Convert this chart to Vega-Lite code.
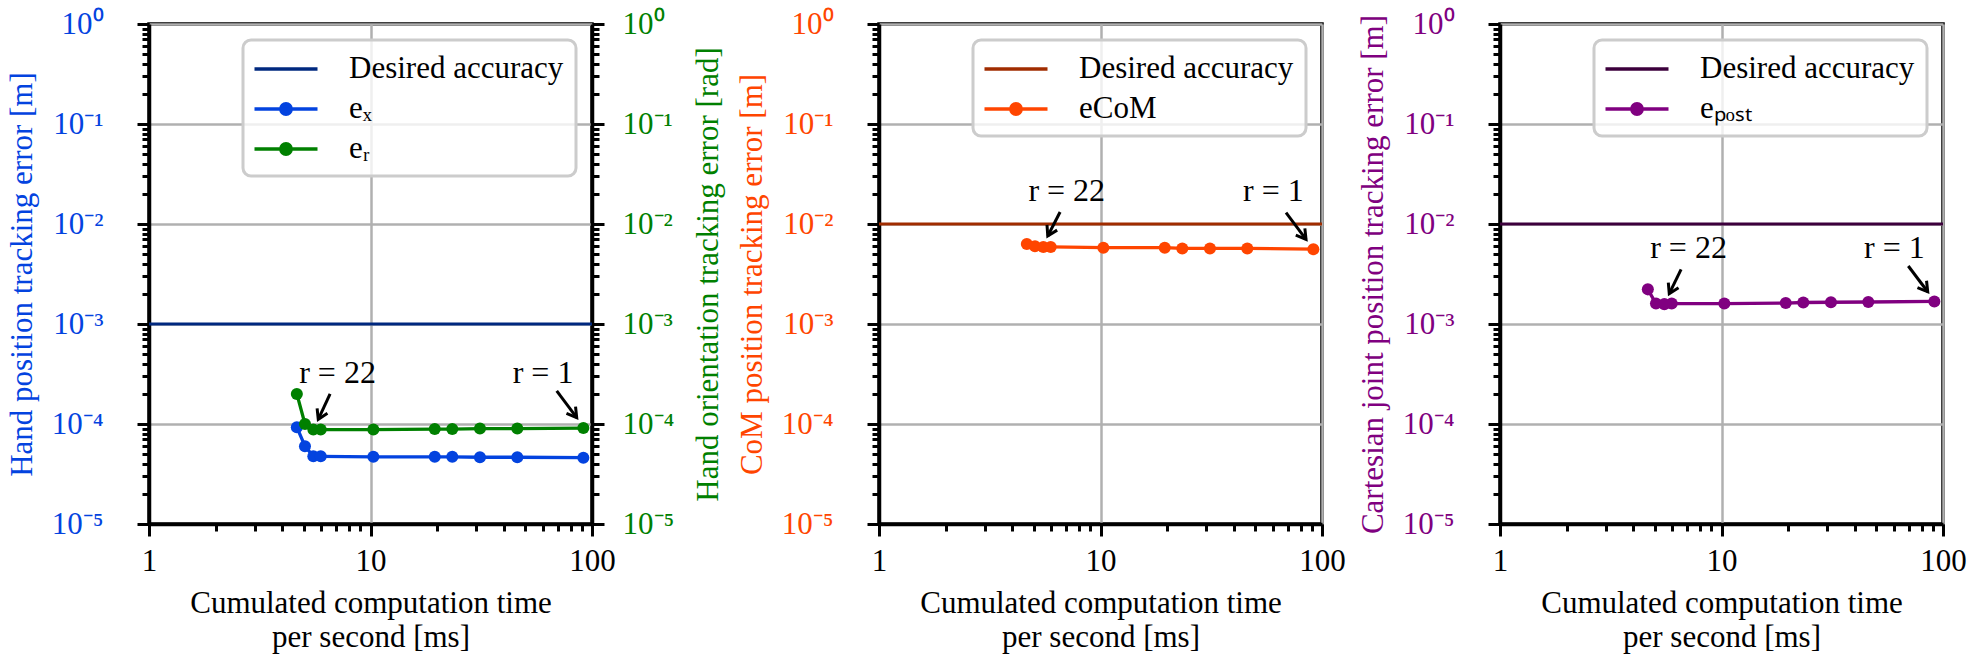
{
 "$schema": "https://vega.github.io/schema/vega-lite/v6.json",
 "background": "white",
 "padding": {"left": 4, "top": 6, "right": 4, "bottom": 5},
 "datasets": {
  "p1_goal": [{"series": "Desired accuracy", "err": 0.001}],
  "p1": [
   {"series": "eₓ", "t": 4.65, "err": 0.000093},
   {"series": "eₓ", "t": 5.06, "err": 0.000060},
   {"series": "eₓ", "t": 5.52, "err": 0.0000475},
   {"series": "eₓ", "t": 5.96, "err": 0.0000475},
   {"series": "eₓ", "t": 10.3, "err": 0.000047},
   {"series": "eₓ", "t": 19.5, "err": 0.000047},
   {"series": "eₓ", "t": 23.4, "err": 0.000047},
   {"series": "eₓ", "t": 31.2, "err": 0.0000465},
   {"series": "eₓ", "t": 46.0, "err": 0.0000465},
   {"series": "eₓ", "t": 91.4, "err": 0.000046},
   {"series": "eᵣ", "t": 4.65, "err": 0.000200},
   {"series": "eᵣ", "t": 5.06, "err": 0.000100},
   {"series": "eᵣ", "t": 5.52, "err": 0.000088},
   {"series": "eᵣ", "t": 5.96, "err": 0.000088},
   {"series": "eᵣ", "t": 10.3, "err": 0.000088},
   {"series": "eᵣ", "t": 19.5, "err": 0.000089},
   {"series": "eᵣ", "t": 23.4, "err": 0.000089},
   {"series": "eᵣ", "t": 31.2, "err": 0.000090},
   {"series": "eᵣ", "t": 46.0, "err": 0.000090},
   {"series": "eᵣ", "t": 91.4, "err": 0.000091}
  ],
  "p1_txt": [{"label": "r = 22", "t": 7.1, "err": 0.00032}, {"label": "r = 1", "t": 60.1, "err": 0.00032}],
  "p1_arr": [{"label": "r = 22", "t": 6.57, "err": 0.0002, "t2": 5.81, "err2": 0.000111}, {"label": "r = 1", "t": 69.3, "err": 0.000214, "t2": 85.3, "err2": 0.000116}],
  "p2_goal": [{"series": "Desired accuracy", "err": 0.01}],
  "p2": [
   {"series": "eCoM", "t": 4.65, "err": 0.0063},
   {"series": "eCoM", "t": 5.06, "err": 0.0060},
   {"series": "eCoM", "t": 5.52, "err": 0.0059},
   {"series": "eCoM", "t": 5.96, "err": 0.0059},
   {"series": "eCoM", "t": 10.3, "err": 0.0058},
   {"series": "eCoM", "t": 19.5, "err": 0.0058},
   {"series": "eCoM", "t": 23.4, "err": 0.0057},
   {"series": "eCoM", "t": 31.2, "err": 0.0057},
   {"series": "eCoM", "t": 46.0, "err": 0.0057},
   {"series": "eCoM", "t": 91.4, "err": 0.0056}
  ],
  "p2_txt": [{"label": "r = 22", "t": 7.04, "err": 0.0214}, {"label": "r = 1", "t": 60.3, "err": 0.0214}],
  "p2_arr": [{"label": "r = 22", "t": 6.57, "err": 0.0132, "t2": 5.78, "err2": 0.00759}, {"label": "r = 1", "t": 68.8, "err": 0.013, "t2": 84.7, "err2": 0.00703}],
  "p3_goal": [{"series": "Desired accuracy", "err": 0.01}],
  "p3": [
   {"series": "eₚₒₛₜ", "t": 4.65, "err": 0.00222},
   {"series": "eₚₒₛₜ", "t": 5.06, "err": 0.00160},
   {"series": "eₚₒₛₜ", "t": 5.52, "err": 0.00158},
   {"series": "eₚₒₛₜ", "t": 5.96, "err": 0.00160},
   {"series": "eₚₒₛₜ", "t": 10.3, "err": 0.00160},
   {"series": "eₚₒₛₜ", "t": 19.5, "err": 0.00162},
   {"series": "eₚₒₛₜ", "t": 23.4, "err": 0.00164},
   {"series": "eₚₒₛₜ", "t": 31.2, "err": 0.00165},
   {"series": "eₚₒₛₜ", "t": 46.0, "err": 0.00166},
   {"series": "eₚₒₛₜ", "t": 91.4, "err": 0.00168}
  ],
  "p3_txt": [{"label": "r = 22", "t": 7.1, "err": 0.00579}, {"label": "r = 1", "t": 60.3, "err": 0.00579}],
  "p3_arr": [{"label": "r = 22", "t": 6.57, "err": 0.00352, "t2": 5.81, "err2": 0.00201}, {"label": "r = 1", "t": 69.7, "err": 0.0038, "t2": 85.3, "err2": 0.0021}]
 },
 "spacing": 8,
 "hconcat": [
  {
   "width": 443, "height": 500,
   "resolve": {"scale": {"x": "shared", "y": "shared"}, "axis": {"x": "independent", "y": "independent"}},
   "layer": [
    {
     "data": {"name": "p1_goal"},
     "mark": {"type": "rule", "strokeWidth": 3},
     "encoding": {
      "y": {"field": "err", "type": "quantitative", "scale": {"type": "log", "domain": [0.00001, 1], "nice": false},
       "axis": {"orient": "left", "values": [0.00001,0.00002,0.00003,0.00004,0.00005,0.00006,0.00007,0.00008,0.00009,0.0001,0.0002,0.0003,0.0004,0.0005,0.0006,0.0007,0.0008,0.0009,0.001,0.002,0.003,0.004,0.005,0.006,0.007,0.008,0.009,0.01,0.02,0.03,0.04,0.05,0.06,0.07,0.08,0.09,0.1,0.2,0.3,0.4,0.5,0.6,0.7,0.8,0.9,1],
        "labelExpr": "datum.value==1?'10⁰':datum.value==0.1?'10⁻¹':datum.value==0.01?'10⁻²':datum.value==0.001?'10⁻³':datum.value==0.0001?'10⁻⁴':datum.value==0.00001?'10⁻⁵':''",
        "tickSize": {"condition": {"test": "datum.value==1||datum.value==0.1||datum.value==0.01||datum.value==0.001||datum.value==0.0001||datum.value==0.00001", "value": 12}, "value": 7},
        "grid": true,
        "gridOpacity": {"condition": {"test": "datum.value==1||datum.value==0.1||datum.value==0.01||datum.value==0.001||datum.value==0.0001||datum.value==0.00001", "value": 1}, "value": 0},
        "labelColor": "#0343df", "labelPadding": 34,
        "title": "Hand position tracking error [m]", "titleColor": "#0343df", "titlePadding": 13}},
      "color": {"field": "series", "type": "nominal", "scale": {"domain": ["Desired accuracy", "eₓ", "eᵣ"], "range": ["#00287f", "#0343df", "#008000"]},
       "legend": {"title": null, "orient": "top-right", "offset": 16, "padding": 12, "rowPadding": 8, "symbolOffset": 14, "labelOffset": 46, "symbolSize": 900, "symbolStrokeWidth": 3.3,
        "encode": {"symbols": {"update": {
         "shape": {"signal": "datum.value=='Desired accuracy'?'M-2.1,0H2.1':'M-2.1,0H2.1M0.35,0A0.35,0.35,0,1,1,-0.35,0A0.35,0.35,0,1,1,0.35,0'"},
         "fill": {"signal": "datum.value=='Desired accuracy'?'transparent':datum.value=='eₓ'?'#0343df':'#008000'"},
         "stroke": {"signal": "datum.value=='Desired accuracy'?'#00287f':datum.value=='eₓ'?'#0343df':'#008000'"},
         "strokeWidth": {"value": 3.3}, "size": {"value": 900}, "opacity": {"value": 1}}}}}}
     }
    },
    {
     "data": {"name": "p1"},
     "mark": {"type": "line", "strokeWidth": 3.3},
     "encoding": {
      "x": {"field": "t", "type": "quantitative", "scale": {"type": "log", "domain": [1, 100], "nice": false},
       "axis": {"values": [1,2,3,4,5,6,7,8,9,10,20,30,40,50,60,70,80,90,100],
        "labelExpr": "datum.value==1?'1':datum.value==10?'10':datum.value==100?'100':''",
        "tickSize": {"condition": {"test": "datum.value==1||datum.value==10||datum.value==100", "value": 12}, "value": 7},
        "grid": true,
        "gridOpacity": {"condition": {"test": "datum.value==1||datum.value==10||datum.value==100", "value": 1}, "value": 0},
        "labelPadding": 10, "labelColor": "black",
        "title": ["Cumulated computation time", "per second [ms]"], "titleColor": "black", "titlePadding": 12, "titleLineHeight": 34}},
      "y": {"field": "err", "type": "quantitative", "axis": null},
      "color": {"field": "series", "type": "nominal", "scale": {"domain": ["Desired accuracy", "eₓ", "eᵣ"], "range": ["#00287f", "#0343df", "#008000"]},
       "legend": {"title": null, "orient": "top-right", "offset": 16, "padding": 12, "rowPadding": 8, "symbolOffset": 14, "labelOffset": 46, "symbolSize": 900, "symbolStrokeWidth": 3.3,
        "encode": {"symbols": {"update": {
         "shape": {"signal": "datum.value=='Desired accuracy'?'M-2.1,0H2.1':'M-2.1,0H2.1M0.35,0A0.35,0.35,0,1,1,-0.35,0A0.35,0.35,0,1,1,0.35,0'"},
         "fill": {"signal": "datum.value=='Desired accuracy'?'transparent':datum.value=='eₓ'?'#0343df':'#008000'"},
         "stroke": {"signal": "datum.value=='Desired accuracy'?'#00287f':datum.value=='eₓ'?'#0343df':'#008000'"},
         "strokeWidth": {"value": 3.3}, "size": {"value": 900}, "opacity": {"value": 1}}}}}}
     }
    },
    {
     "data": {"name": "p1"},
     "mark": {"type": "point", "filled": true, "size": 145, "opacity": 1},
     "encoding": {
      "x": {"field": "t", "type": "quantitative", "axis": null},
      "y": {"field": "err", "type": "quantitative",
       "axis": {"orient": "right", "values": [0.00001,0.00002,0.00003,0.00004,0.00005,0.00006,0.00007,0.00008,0.00009,0.0001,0.0002,0.0003,0.0004,0.0005,0.0006,0.0007,0.0008,0.0009,0.001,0.002,0.003,0.004,0.005,0.006,0.007,0.008,0.009,0.01,0.02,0.03,0.04,0.05,0.06,0.07,0.08,0.09,0.1,0.2,0.3,0.4,0.5,0.6,0.7,0.8,0.9,1],
        "labelExpr": "datum.value==1?'10⁰':datum.value==0.1?'10⁻¹':datum.value==0.01?'10⁻²':datum.value==0.001?'10⁻³':datum.value==0.0001?'10⁻⁴':datum.value==0.00001?'10⁻⁵':''",
        "tickSize": {"condition": {"test": "datum.value==1||datum.value==0.1||datum.value==0.01||datum.value==0.001||datum.value==0.0001||datum.value==0.00001", "value": 12}, "value": 7},
        "grid": false,
        "labelColor": "#008000", "labelPadding": 18,
        "title": "Hand orientation tracking error [rad]", "titleColor": "#008000", "titleAngle": 270, "titleBaseline": "top", "titlePadding": 20}},
      "color": {"field": "series", "type": "nominal", "scale": {"domain": ["Desired accuracy", "eₓ", "eᵣ"], "range": ["#00287f", "#0343df", "#008000"]},
       "legend": {"title": null, "orient": "top-right", "offset": 16, "padding": 12, "rowPadding": 8, "symbolOffset": 14, "labelOffset": 46, "symbolSize": 900, "symbolStrokeWidth": 3.3,
        "encode": {"symbols": {"update": {
         "shape": {"signal": "datum.value=='Desired accuracy'?'M-2.1,0H2.1':'M-2.1,0H2.1M0.35,0A0.35,0.35,0,1,1,-0.35,0A0.35,0.35,0,1,1,0.35,0'"},
         "fill": {"signal": "datum.value=='Desired accuracy'?'transparent':datum.value=='eₓ'?'#0343df':'#008000'"},
         "stroke": {"signal": "datum.value=='Desired accuracy'?'#00287f':datum.value=='eₓ'?'#0343df':'#008000'"},
         "strokeWidth": {"value": 3.3}, "size": {"value": 900}, "opacity": {"value": 1}}}}}}
     }
    },
    {
     "data": {"name": "p1_txt"},
     "mark": {"type": "text", "font": "Liberation Serif", "fontSize": 32, "color": "black", "baseline": "middle"},
     "encoding": {
      "x": {"field": "t", "type": "quantitative", "axis": null},
      "y": {"field": "err", "type": "quantitative", "axis": null},
      "text": {"field": "label"}
     }
    },
    {
     "data": {"name": "p1_arr"},
     "mark": {"type": "rule", "strokeWidth": 3, "color": "black"},
     "encoding": {
      "x": {"field": "t", "type": "quantitative", "axis": null},
      "y": {"field": "err", "type": "quantitative", "axis": null},
      "x2": {"field": "t2"},
      "y2": {"field": "err2"}
     }
    },
    {
     "data": {"name": "p1_arr"},
     "mark": {"type": "point", "shape": "M-0.6,-1L0,0L0.6,-1", "filled": false, "size": 360, "strokeWidth": 3, "color": "black", "opacity": 1},
     "encoding": {
      "x": {"field": "t2", "type": "quantitative", "axis": null},
      "y": {"field": "err2", "type": "quantitative", "axis": null},
      "angle": {"condition": {"test": "datum.label=='r = 1'", "value": 323}, "value": 25}
     }
    }
   ]
  },
  {
   "width": 443, "height": 500,
   "resolve": {"scale": {"x": "shared", "y": "shared"}, "axis": {"x": "independent", "y": "independent"}},
   "layer": [
    {
     "data": {"name": "p2_goal"},
     "mark": {"type": "rule", "strokeWidth": 3},
     "encoding": {
      "y": {"field": "err", "type": "quantitative", "scale": {"type": "log", "domain": [0.00001, 1], "nice": false},
       "axis": {"orient": "left", "values": [0.00001,0.00002,0.00003,0.00004,0.00005,0.00006,0.00007,0.00008,0.00009,0.0001,0.0002,0.0003,0.0004,0.0005,0.0006,0.0007,0.0008,0.0009,0.001,0.002,0.003,0.004,0.005,0.006,0.007,0.008,0.009,0.01,0.02,0.03,0.04,0.05,0.06,0.07,0.08,0.09,0.1,0.2,0.3,0.4,0.5,0.6,0.7,0.8,0.9,1],
        "labelExpr": "datum.value==1?'10⁰':datum.value==0.1?'10⁻¹':datum.value==0.01?'10⁻²':datum.value==0.001?'10⁻³':datum.value==0.0001?'10⁻⁴':datum.value==0.00001?'10⁻⁵':''",
        "tickSize": {"condition": {"test": "datum.value==1||datum.value==0.1||datum.value==0.01||datum.value==0.001||datum.value==0.0001||datum.value==0.00001", "value": 12}, "value": 7},
        "grid": true,
        "gridOpacity": {"condition": {"test": "datum.value==1||datum.value==0.1||datum.value==0.01||datum.value==0.001||datum.value==0.0001||datum.value==0.00001", "value": 1}, "value": 0},
        "labelColor": "#ff4500", "labelPadding": 34,
        "title": "CoM position tracking error [m]", "titleColor": "#ff4500", "titlePadding": 13}},
      "color": {"field": "series", "type": "nominal", "scale": {"domain": ["Desired accuracy", "eCoM"], "range": ["#a02c00", "#ff4500"]},
       "legend": {"title": null, "orient": "top-right", "offset": 16, "padding": 12, "rowPadding": 8, "symbolOffset": 14, "labelOffset": 46, "symbolSize": 900, "symbolStrokeWidth": 3.3,
        "encode": {"symbols": {"update": {
         "shape": {"signal": "datum.value=='Desired accuracy'?'M-2.1,0H2.1':'M-2.1,0H2.1M0.35,0A0.35,0.35,0,1,1,-0.35,0A0.35,0.35,0,1,1,0.35,0'"},
         "fill": {"signal": "datum.value=='Desired accuracy'?'transparent':'#ff4500'"},
         "stroke": {"signal": "datum.value=='Desired accuracy'?'#a02c00':'#ff4500'"},
         "strokeWidth": {"value": 3.3}, "size": {"value": 900}, "opacity": {"value": 1}}}}}}
     }
    },
    {
     "data": {"name": "p2"},
     "mark": {"type": "line", "strokeWidth": 3.3},
     "encoding": {
      "x": {"field": "t", "type": "quantitative", "scale": {"type": "log", "domain": [1, 100], "nice": false},
       "axis": {"values": [1,2,3,4,5,6,7,8,9,10,20,30,40,50,60,70,80,90,100],
        "labelExpr": "datum.value==1?'1':datum.value==10?'10':datum.value==100?'100':''",
        "tickSize": {"condition": {"test": "datum.value==1||datum.value==10||datum.value==100", "value": 12}, "value": 7},
        "grid": true,
        "gridOpacity": {"condition": {"test": "datum.value==1||datum.value==10||datum.value==100", "value": 1}, "value": 0},
        "labelPadding": 10, "labelColor": "black",
        "title": ["Cumulated computation time", "per second [ms]"], "titleColor": "black", "titlePadding": 12, "titleLineHeight": 34}},
      "y": {"field": "err", "type": "quantitative", "axis": null},
      "color": {"field": "series", "type": "nominal", "scale": {"domain": ["Desired accuracy", "eCoM"], "range": ["#a02c00", "#ff4500"]},
       "legend": {"title": null, "orient": "top-right", "offset": 16, "padding": 12, "rowPadding": 8, "symbolOffset": 14, "labelOffset": 46, "symbolSize": 900, "symbolStrokeWidth": 3.3,
        "encode": {"symbols": {"update": {
         "shape": {"signal": "datum.value=='Desired accuracy'?'M-2.1,0H2.1':'M-2.1,0H2.1M0.35,0A0.35,0.35,0,1,1,-0.35,0A0.35,0.35,0,1,1,0.35,0'"},
         "fill": {"signal": "datum.value=='Desired accuracy'?'transparent':'#ff4500'"},
         "stroke": {"signal": "datum.value=='Desired accuracy'?'#a02c00':'#ff4500'"},
         "strokeWidth": {"value": 3.3}, "size": {"value": 900}, "opacity": {"value": 1}}}}}}
     }
    },
    {
     "data": {"name": "p2"},
     "mark": {"type": "point", "filled": true, "size": 145, "opacity": 1},
     "encoding": {
      "x": {"field": "t", "type": "quantitative", "axis": null},
      "y": {"field": "err", "type": "quantitative", "axis": null},
      "color": {"field": "series", "type": "nominal", "scale": {"domain": ["Desired accuracy", "eCoM"], "range": ["#a02c00", "#ff4500"]},
       "legend": {"title": null, "orient": "top-right", "offset": 16, "padding": 12, "rowPadding": 8, "symbolOffset": 14, "labelOffset": 46, "symbolSize": 900, "symbolStrokeWidth": 3.3,
        "encode": {"symbols": {"update": {
         "shape": {"signal": "datum.value=='Desired accuracy'?'M-2.1,0H2.1':'M-2.1,0H2.1M0.35,0A0.35,0.35,0,1,1,-0.35,0A0.35,0.35,0,1,1,0.35,0'"},
         "fill": {"signal": "datum.value=='Desired accuracy'?'transparent':'#ff4500'"},
         "stroke": {"signal": "datum.value=='Desired accuracy'?'#a02c00':'#ff4500'"},
         "strokeWidth": {"value": 3.3}, "size": {"value": 900}, "opacity": {"value": 1}}}}}}
     }
    },
    {
     "data": {"name": "p2_txt"},
     "mark": {"type": "text", "font": "Liberation Serif", "fontSize": 32, "color": "black", "baseline": "middle"},
     "encoding": {
      "x": {"field": "t", "type": "quantitative", "axis": null},
      "y": {"field": "err", "type": "quantitative", "axis": null},
      "text": {"field": "label"}
     }
    },
    {
     "data": {"name": "p2_arr"},
     "mark": {"type": "rule", "strokeWidth": 3, "color": "black"},
     "encoding": {
      "x": {"field": "t", "type": "quantitative", "axis": null},
      "y": {"field": "err", "type": "quantitative", "axis": null},
      "x2": {"field": "t2"},
      "y2": {"field": "err2"}
     }
    },
    {
     "data": {"name": "p2_arr"},
     "mark": {"type": "point", "shape": "M-0.6,-1L0,0L0.6,-1", "filled": false, "size": 360, "strokeWidth": 3, "color": "black", "opacity": 1},
     "encoding": {
      "x": {"field": "t2", "type": "quantitative", "axis": null},
      "y": {"field": "err2", "type": "quantitative", "axis": null},
      "angle": {"condition": {"test": "datum.label=='r = 1'", "value": 323}, "value": 27}
     }
    }
   ]
  },
  {
   "width": 443, "height": 500,
   "resolve": {"scale": {"x": "shared", "y": "shared"}, "axis": {"x": "independent", "y": "independent"}},
   "layer": [
    {
     "data": {"name": "p3_goal"},
     "mark": {"type": "rule", "strokeWidth": 3},
     "encoding": {
      "y": {"field": "err", "type": "quantitative", "scale": {"type": "log", "domain": [0.00001, 1], "nice": false},
       "axis": {"orient": "left", "values": [0.00001,0.00002,0.00003,0.00004,0.00005,0.00006,0.00007,0.00008,0.00009,0.0001,0.0002,0.0003,0.0004,0.0005,0.0006,0.0007,0.0008,0.0009,0.001,0.002,0.003,0.004,0.005,0.006,0.007,0.008,0.009,0.01,0.02,0.03,0.04,0.05,0.06,0.07,0.08,0.09,0.1,0.2,0.3,0.4,0.5,0.6,0.7,0.8,0.9,1],
        "labelExpr": "datum.value==1?'10⁰':datum.value==0.1?'10⁻¹':datum.value==0.01?'10⁻²':datum.value==0.001?'10⁻³':datum.value==0.0001?'10⁻⁴':datum.value==0.00001?'10⁻⁵':''",
        "tickSize": {"condition": {"test": "datum.value==1||datum.value==0.1||datum.value==0.01||datum.value==0.001||datum.value==0.0001||datum.value==0.00001", "value": 12}, "value": 7},
        "grid": true,
        "gridOpacity": {"condition": {"test": "datum.value==1||datum.value==0.1||datum.value==0.01||datum.value==0.001||datum.value==0.0001||datum.value==0.00001", "value": 1}, "value": 0},
        "labelColor": "#800080", "labelPadding": 34,
        "title": "Cartesian joint position tracking error [m]", "titleColor": "#800080", "titlePadding": 13}},
      "color": {"field": "series", "type": "nominal", "scale": {"domain": ["Desired accuracy", "eₚₒₛₜ"], "range": ["#3c003c", "#800080"]},
       "legend": {"title": null, "orient": "top-right", "offset": 16, "padding": 12, "rowPadding": 8, "symbolOffset": 14, "labelOffset": 46, "symbolSize": 900, "symbolStrokeWidth": 3.3,
        "encode": {"symbols": {"update": {
         "shape": {"signal": "datum.value=='Desired accuracy'?'M-2.1,0H2.1':'M-2.1,0H2.1M0.35,0A0.35,0.35,0,1,1,-0.35,0A0.35,0.35,0,1,1,0.35,0'"},
         "fill": {"signal": "datum.value=='Desired accuracy'?'transparent':'#800080'"},
         "stroke": {"signal": "datum.value=='Desired accuracy'?'#3c003c':'#800080'"},
         "strokeWidth": {"value": 3.3}, "size": {"value": 900}, "opacity": {"value": 1}}}}}}
     }
    },
    {
     "data": {"name": "p3"},
     "mark": {"type": "line", "strokeWidth": 3.3},
     "encoding": {
      "x": {"field": "t", "type": "quantitative", "scale": {"type": "log", "domain": [1, 100], "nice": false},
       "axis": {"values": [1,2,3,4,5,6,7,8,9,10,20,30,40,50,60,70,80,90,100],
        "labelExpr": "datum.value==1?'1':datum.value==10?'10':datum.value==100?'100':''",
        "tickSize": {"condition": {"test": "datum.value==1||datum.value==10||datum.value==100", "value": 12}, "value": 7},
        "grid": true,
        "gridOpacity": {"condition": {"test": "datum.value==1||datum.value==10||datum.value==100", "value": 1}, "value": 0},
        "labelPadding": 10, "labelColor": "black",
        "title": ["Cumulated computation time", "per second [ms]"], "titleColor": "black", "titlePadding": 12, "titleLineHeight": 34}},
      "y": {"field": "err", "type": "quantitative", "axis": null},
      "color": {"field": "series", "type": "nominal", "scale": {"domain": ["Desired accuracy", "eₚₒₛₜ"], "range": ["#3c003c", "#800080"]},
       "legend": {"title": null, "orient": "top-right", "offset": 16, "padding": 12, "rowPadding": 8, "symbolOffset": 14, "labelOffset": 46, "symbolSize": 900, "symbolStrokeWidth": 3.3,
        "encode": {"symbols": {"update": {
         "shape": {"signal": "datum.value=='Desired accuracy'?'M-2.1,0H2.1':'M-2.1,0H2.1M0.35,0A0.35,0.35,0,1,1,-0.35,0A0.35,0.35,0,1,1,0.35,0'"},
         "fill": {"signal": "datum.value=='Desired accuracy'?'transparent':'#800080'"},
         "stroke": {"signal": "datum.value=='Desired accuracy'?'#3c003c':'#800080'"},
         "strokeWidth": {"value": 3.3}, "size": {"value": 900}, "opacity": {"value": 1}}}}}}
     }
    },
    {
     "data": {"name": "p3"},
     "mark": {"type": "point", "filled": true, "size": 145, "opacity": 1},
     "encoding": {
      "x": {"field": "t", "type": "quantitative", "axis": null},
      "y": {"field": "err", "type": "quantitative", "axis": null},
      "color": {"field": "series", "type": "nominal", "scale": {"domain": ["Desired accuracy", "eₚₒₛₜ"], "range": ["#3c003c", "#800080"]},
       "legend": {"title": null, "orient": "top-right", "offset": 16, "padding": 12, "rowPadding": 8, "symbolOffset": 14, "labelOffset": 46, "symbolSize": 900, "symbolStrokeWidth": 3.3,
        "encode": {"symbols": {"update": {
         "shape": {"signal": "datum.value=='Desired accuracy'?'M-2.1,0H2.1':'M-2.1,0H2.1M0.35,0A0.35,0.35,0,1,1,-0.35,0A0.35,0.35,0,1,1,0.35,0'"},
         "fill": {"signal": "datum.value=='Desired accuracy'?'transparent':'#800080'"},
         "stroke": {"signal": "datum.value=='Desired accuracy'?'#3c003c':'#800080'"},
         "strokeWidth": {"value": 3.3}, "size": {"value": 900}, "opacity": {"value": 1}}}}}}
     }
    },
    {
     "data": {"name": "p3_txt"},
     "mark": {"type": "text", "font": "Liberation Serif", "fontSize": 32, "color": "black", "baseline": "middle"},
     "encoding": {
      "x": {"field": "t", "type": "quantitative", "axis": null},
      "y": {"field": "err", "type": "quantitative", "axis": null},
      "text": {"field": "label"}
     }
    },
    {
     "data": {"name": "p3_arr"},
     "mark": {"type": "rule", "strokeWidth": 3, "color": "black"},
     "encoding": {
      "x": {"field": "t", "type": "quantitative", "axis": null},
      "y": {"field": "err", "type": "quantitative", "axis": null},
      "x2": {"field": "t2"},
      "y2": {"field": "err2"}
     }
    },
    {
     "data": {"name": "p3_arr"},
     "mark": {"type": "point", "shape": "M-0.6,-1L0,0L0.6,-1", "filled": false, "size": 360, "strokeWidth": 3, "color": "black", "opacity": 1},
     "encoding": {
      "x": {"field": "t2", "type": "quantitative", "axis": null},
      "y": {"field": "err2", "type": "quantitative", "axis": null},
      "angle": {"condition": {"test": "datum.label=='r = 1'", "value": 323}, "value": 26}
     }
    }
   ]
  }
 ],
 "resolve": {"scale": {"x": "independent", "y": "independent", "color": "independent"}, "legend": {"color": "independent"}},
 "config": {
  "font": "Liberation Serif",
  "view": {"stroke": "black", "strokeWidth": 3.5},
  "axis": {"labelFont": "Liberation Serif", "labelFontSize": 31, "titleFont": "Liberation Serif", "titleFontSize": 31, "titleFontWeight": "normal", "domainColor": "black", "domainWidth": 3.5, "tickColor": "black", "tickWidth": 3, "gridColor": "#b0b0b0", "gridWidth": 2.5, "labelOverlap": false, "labelFlush": false, "labelBound": false},
  "legend": {"fillColor": "rgba(255,255,255,0.8)", "strokeColor": "#cccccc", "strokeWidth": 3, "cornerRadius": 8, "labelFont": "Liberation Serif", "labelFontSize": 31, "labelColor": "black", "labelLimit": 400}
 }
}
